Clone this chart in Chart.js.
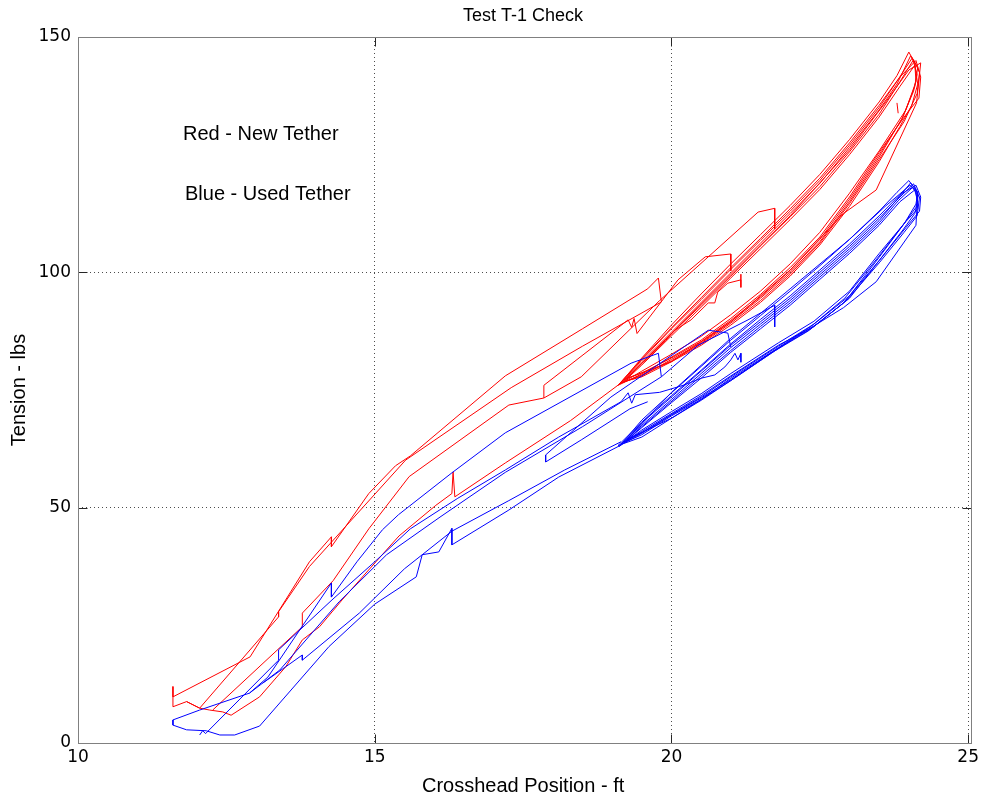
<!DOCTYPE html>
<html>
<head>
<meta charset="utf-8">
<title>Test T-1 Check</title>
<script src="https://cdn.jsdelivr.net/npm/chart.js@4.4.1/dist/chart.umd.min.js"></script>
<style>
  html, body { margin: 0; padding: 0; background: #fff; }
  #wrap { width: 983px; height: 796px; }
</style>
</head>
<body>
<div id="wrap"><canvas id="tensionChart" width="983" height="796"></canvas></div>
<script>
// axes
const xTickValues = [10, 15, 20, 25];
const xTickLabels = ['10', '15', '20', '25'];
const yTickValues = [0, 50, 100, 150];
const yTickLabels = ['0', '50', '100', '150'];

// Red - new tether: [crosshead position ft, tension lbs]
const redRampA = [[11.6,12.0],[11.6,9.8],[12.9,18.3],[13.9,38.5],[14.27,43.8],[14.27,41.7],[14.9,53.0],[15.35,58.9],[15.6,61.0],[17.2,78.0],[18.5,88.0],[19.6,96.5],[19.78,98.8],[19.83,93.7],[18.5,84.3],[17.3,75.5],[15.52,60.1],[13.9,37.5],[13.38,27.9],[13.38,26.8],[12.05,7.4],[11.83,8.8],[11.6,7.7],[11.6,9.8]];
const redRampB = [[12.27,7.0],[13.78,24.7],[13.78,27.6],[14.3,34.5],[14.9,45.5],[15.58,56.6],[17.26,71.8],[17.85,73.3],[17.85,76.0],[19.27,89.9],[19.33,88.3],[19.37,90.2],[19.42,87.0],[20.11,98.4],[20.57,103.3],[21.0,103.9],[21.0,100.3]];
const redRampC = [[17.85,73.3],[18.48,77.8],[19.8,94.0],[21.46,112.8],[21.74,113.6],[21.74,109.2]];
const redRampD = [[11.83,8.8],[12.05,7.4],[12.22,7.0],[12.44,6.6],[12.58,5.9],[13.06,9.8],[13.5,16.2],[13.78,21.9],[14.07,24.7],[14.45,30.4],[15.02,38.5],[15.41,44.0],[16.03,50.5],[16.3,53.0],[16.32,57.6],[16.35,52.3],[17.2,59.5],[18.3,68.5],[19.15,76.5]];
const redZig = [[19.55,81.0],[19.9,85.5],[20.06,87.7],[20.33,89.9],[20.62,93.5],[20.73,93.5],[20.78,95.8],[20.95,97.7],[21.17,98.4],[21.17,99.6],[21.17,96.8]];
const redLoop1 = [[19.15,76.5],[19.5,81.0],[20.0,87.3],[20.5,93.6],[21.0,99.9],[21.5,106.2],[22.0,112.5],[22.5,118.9],[23.0,126.5],[23.5,134.5],[23.8,140.0],[24.03,146.0],[24.15,143.5],[24.1,139.5],[23.9,133.0],[23.5,124.5],[23.0,115.0],[22.5,106.5],[22.0,100.0],[21.5,94.5],[21.0,89.5],[20.5,85.0],[20.0,81.5],[19.5,78.0],[19.15,76.5]];
const redLoop2 = [[19.2,76.8],[19.5,80.3],[20.0,86.5],[20.5,92.6],[21.0,98.8],[21.5,105.0],[22.0,111.2],[22.5,117.6],[23.0,125.0],[23.5,133.0],[23.85,139.5],[24.1,144.0],[24.15,140.0],[24.05,135.5],[23.85,131.0],[23.5,123.5],[23.0,114.0],[22.5,105.8],[22.0,99.2],[21.5,93.6],[21.0,88.8],[20.5,84.5],[20.0,81.0],[19.5,77.8],[19.2,76.8]];
const redLoop3 = [[19.1,76.0],[19.5,81.6],[20.0,88.2],[20.5,94.6],[21.0,101.0],[21.5,107.2],[22.0,113.5],[22.5,120.0],[23.0,127.5],[23.5,135.5],[23.85,141.5],[24.12,145.0],[24.2,141.5],[24.17,137.0],[23.95,133.5],[23.5,125.5],[23.0,116.0],[22.5,107.5],[22.0,101.0],[21.5,95.3],[21.0,90.2],[20.5,85.6],[20.0,82.0],[19.5,78.4],[19.1,76.0]];
const redLoop4 = [[19.25,77.5],[20.0,87.0],[21.0,99.5],[22.0,112.0],[23.0,126.0],[23.6,136.0],[24.0,143.0],[24.2,144.5],[24.13,136.0],[23.45,117.5],[22.9,112.5],[22.0,100.5],[21.0,89.5],[20.0,81.0],[19.25,77.5]];
const redLoop5 = [[19.12,76.2],[19.5,81.8],[20.0,88.8],[20.5,95.4],[21.0,101.8],[21.5,108.0],[22.0,114.2],[22.5,120.8],[23.0,128.2],[23.5,136.2],[23.8,141.8],[24.0,146.8],[24.1,144.5],[24.12,140.5],[23.95,134.5],[23.5,125.8],[23.0,116.8],[22.5,108.5],[22.0,101.8],[21.5,96.0],[21.0,91.0],[20.5,86.4],[20.0,82.6],[19.5,79.0],[19.12,76.2]];
const redLoop6 = [[19.18,76.6],[19.5,80.6],[20.0,87.0],[20.5,93.0],[21.0,99.2],[21.5,105.6],[22.0,111.8],[22.5,118.2],[23.0,125.6],[23.5,133.6],[23.85,140.5],[24.08,145.2],[24.18,142.5],[24.14,138.0],[23.92,132.0],[23.5,124.0],[23.0,114.6],[22.5,106.2],[22.0,99.6],[21.5,94.0],[21.0,89.2],[20.5,84.8],[20.0,81.2],[19.5,78.2],[19.18,76.6]];
const redLoop7 = [[19.2,77.2],[19.5,81.4],[20.0,88.0],[20.5,94.2],[21.0,100.6],[21.5,106.8],[22.0,113.0],[22.5,119.5],[23.0,127.0],[23.5,135.0],[23.82,141.0],[24.06,145.6],[24.14,142.0],[24.08,138.5],[23.88,132.5],[23.5,125.0],[23.0,115.5],[22.5,107.0],[22.0,100.4],[21.5,94.8],[21.0,89.8],[20.5,85.3],[20.0,81.8],[19.5,78.6],[19.2,77.2]];
const redStray = [[23.8,136.0],[23.82,133.8]];

// Blue - used tether
const blueRampA = [[11.6,4.9],[11.6,3.8],[11.83,2.8],[12.16,2.6],[12.39,1.7],[12.64,1.7],[13.06,3.6],[14.23,20.5],[15.0,29.5],[15.7,35.3],[15.8,40.0],[16.08,40.6],[16.3,45.6],[16.3,42.1],[17.26,49.5],[18.1,56.5],[19.15,63.3]];
const blueRampB = [[11.6,4.9],[12.05,7.0],[12.89,10.6],[13.2,14.0],[14.27,34.0],[14.27,31.0],[14.7,38.5],[15.13,45.3],[15.4,48.5],[16.3,57.4],[17.2,65.9],[19.32,80.7],[19.78,82.8],[19.83,77.8],[18.5,67.2],[17.2,57.5],[16.1,48.0],[15.2,40.0],[14.4,30.0],[13.4,15.5],[12.89,10.6]];
const blueRampC = [[12.05,1.7],[12.1,2.6],[12.15,2.0],[13.38,17.6],[13.38,19.8],[14.28,30.4],[15.0,38.5],[15.6,45.5],[16.4,52.0],[17.2,58.0],[18.1,65.0],[19.15,72.5],[19.27,74.4],[19.33,72.2],[19.39,74.0],[19.8,74.5],[20.2,76.0],[20.5,77.5],[20.73,78.2],[20.9,79.9],[21.0,81.4],[21.07,82.8],[21.12,81.4],[21.17,82.8],[21.17,80.9]];
const blueRampD = [[13.11,12.7],[13.78,18.7],[13.78,17.6],[14.74,27.6],[15.5,37.0],[16.3,45.0],[17.26,51.5],[18.2,58.0],[19.15,64.0]];
const blueRampE = [[21.0,84.1],[20.95,87.1],[20.62,87.7],[18.98,73.5],[17.88,61.2],[17.88,59.7],[18.48,64.4],[19.3,71.0],[19.6,72.5]];
const blueRampF = [[19.83,77.8],[20.45,84.5],[21.29,89.9],[21.74,93.0],[21.74,88.4]];
const blueLoop1 = [[19.15,63.5],[19.5,67.5],[20.0,73.0],[20.5,78.5],[21.0,84.0],[21.5,89.0],[22.0,94.0],[22.5,99.5],[23.0,105.0],[23.5,111.0],[23.8,115.5],[24.03,119.0],[24.15,117.0],[24.12,114.5],[23.93,110.5],[23.47,103.0],[22.92,94.5],[22.35,88.5],[21.8,84.0],[21.0,77.5],[20.5,73.0],[20.0,69.5],[19.5,65.5],[19.15,63.5]];
const blueLoop2 = [[19.2,63.8],[19.5,67.0],[20.0,72.3],[20.5,77.5],[21.0,83.0],[21.5,88.0],[22.0,93.0],[22.5,98.5],[23.0,104.0],[23.5,110.0],[23.85,115.0],[24.1,117.5],[24.15,115.0],[24.1,112.5],[23.9,109.0],[23.5,102.5],[23.0,94.5],[22.4,88.5],[21.8,84.5],[21.0,78.0],[20.5,73.8],[20.0,70.0],[19.5,66.2],[19.2,63.8]];
const blueLoop3 = [[19.1,63.2],[19.5,68.2],[20.0,73.8],[20.5,79.2],[21.0,84.8],[21.5,90.0],[22.0,95.0],[22.5,100.5],[23.0,106.0],[23.5,112.0],[23.85,116.5],[24.12,118.5],[24.2,116.0],[24.18,113.0],[23.95,109.5],[23.5,102.5],[22.9,93.5],[22.3,87.5],[21.7,83.0],[21.0,77.0],[20.5,72.8],[20.0,69.0],[19.5,65.0],[19.1,63.2]];
const blueLoop4 = [[19.25,64.5],[20.0,74.5],[21.0,86.0],[22.0,96.5],[23.0,107.0],[23.6,114.0],[24.02,118.5],[24.15,117.0],[24.12,110.0],[23.45,98.0],[22.9,92.5],[22.0,85.5],[21.0,77.0],[20.0,69.0],[19.25,64.5]];
const blueLoop5 = [[19.12,63.0],[19.5,68.6],[20.0,74.4],[20.5,80.0],[21.0,85.6],[21.5,90.8],[22.0,96.0],[22.5,101.4],[23.0,107.0],[23.5,113.0],[23.8,117.0],[24.0,119.5],[24.12,117.5],[24.15,113.5],[23.95,110.8],[23.5,104.0],[23.0,96.0],[22.4,89.6],[21.8,85.0],[21.0,78.5],[20.5,74.2],[20.0,70.4],[19.5,66.5],[19.12,63.0]];
const blueLoop6 = [[19.18,63.6],[19.5,67.2],[20.0,72.6],[20.5,78.0],[21.0,83.4],[21.5,88.5],[22.0,93.5],[22.5,99.0],[23.0,104.5],[23.5,110.5],[23.82,115.2],[24.06,118.0],[24.18,116.0],[24.14,112.0],[23.92,108.5],[23.5,102.0],[22.95,94.0],[22.35,88.0],[21.75,83.5],[21.0,77.2],[20.5,73.3],[20.0,69.7],[19.5,65.8],[19.18,63.6]];
const blueLoop7 = [[19.2,64.0],[19.5,68.0],[20.0,73.5],[20.5,79.0],[21.0,84.5],[21.5,89.5],[22.0,94.5],[22.5,100.0],[23.0,105.5],[23.5,111.5],[23.85,116.0],[24.08,118.8],[24.16,116.5],[24.12,113.8],[23.9,110.0],[23.5,103.2],[23.0,95.0],[22.4,89.0],[21.8,84.3],[21.0,77.8],[20.5,73.5],[20.0,69.8],[19.5,65.9],[19.2,64.0]];

const redPaths = [redRampA, redRampB, redRampC, redRampD, redZig, redLoop1, redLoop2, redLoop3, redLoop4, redLoop5, redLoop6, redLoop7, redStray];
const bluePaths = [blueRampA, blueRampB, blueRampC, blueRampD, blueRampE, blueRampF, blueLoop1, blueLoop2, blueLoop3, blueLoop4, blueLoop5, blueLoop6, blueLoop7];

const tickFont = '"DejaVu Sans", sans-serif';
const textFont = '"Liberation Sans", Arial, sans-serif';

function makeSet(path, color) {
    return {
        data: path.map(p => ({ x: p[0], y: p[1] })),
        showLine: true,
        borderColor: color,
        borderWidth: 1,
        pointRadius: 0,
        pointHoverRadius: 0,
        fill: false,
        tension: 0
    };
}

const datasets = [];
bluePaths.forEach(p => datasets.push(makeSet(p, '#0000ff')));
redPaths.forEach(p => datasets.push(makeSet(p, '#ff0000')));

// frame, inward ticks, title, axis titles and the two notes
const matlabLook = {
    id: 'matlabLook',
    afterDraw(chart) {
        const ctx = chart.ctx;
        const a = chart.chartArea;
        const xs = chart.scales.x;
        const ys = chart.scales.y;
        const L = 78.5, R = 971.5, T = 37.5, B = 743.5;
        ctx.save();
        ctx.lineWidth = 1;
        ctx.strokeStyle = '#262626';
        ctx.beginPath();
        xTickValues.forEach(v => {
            const px = Math.round(xs.getPixelForValue(v)) + 0.5;
            ctx.moveTo(px, B); ctx.lineTo(px, B - 9);
            ctx.moveTo(px, T); ctx.lineTo(px, T + 9);
        });
        yTickValues.forEach(v => {
            const py = Math.round(ys.getPixelForValue(v)) + 0.5;
            ctx.moveTo(L, py); ctx.lineTo(L + 9, py);
            ctx.moveTo(R, py); ctx.lineTo(R - 9, py);
        });
        ctx.stroke();
        ctx.strokeStyle = '#808080';
        ctx.strokeRect(L, T, R - L, B - T);

        ctx.fillStyle = '#000';
        ctx.textBaseline = 'middle';
        ctx.textAlign = 'center';
        ctx.font = '18px ' + textFont;
        ctx.fillText('Test T-1 Check', (a.left + a.right) / 2, 16);
        ctx.font = '20px ' + textFont;
        ctx.fillText('Crosshead Position - ft', (a.left + a.right) / 2, 786);
        ctx.save();
        ctx.translate(19, (a.top + a.bottom) / 2);
        ctx.rotate(-Math.PI / 2);
        ctx.fillText('Tension - lbs', 0, 0);
        ctx.restore();
        ctx.textAlign = 'left';
        ctx.fillText('Red - New Tether', 183, 134);
        ctx.fillText('Blue - Used Tether', 185, 194);
        ctx.restore();
    }
};

const ctxT = document.getElementById('tensionChart').getContext('2d');
new Chart(ctxT, {
    type: 'scatter',
    data: { datasets: datasets },
    options: {
        responsive: false,
        animation: false,
        events: [],
        layout: { padding: { left: 0, right: 12, top: 37, bottom: 0 } },
        plugins: {
            legend: { display: false },
            tooltip: { enabled: false },
            title: { display: false }
        },
        scales: {
            x: {
                type: 'linear',
                min: 10,
                max: 25,
                afterBuildTicks: s => { s.ticks = xTickValues.map(v => ({ value: v })); },
                afterFit: s => { s.height = 53; },
                ticks: {
                    color: '#000',
                    padding: 4,
                    maxRotation: 0,
                    font: { family: tickFont, size: 17 },
                    callback: v => xTickLabels[xTickValues.indexOf(v)]
                },
                grid: {
                    color: '#4d4d4d',
                    drawTicks: false
                },
                border: { display: false, dash: [1, 3] }
            },
            y: {
                type: 'linear',
                min: 0,
                max: 150,
                afterBuildTicks: s => { s.ticks = yTickValues.map(v => ({ value: v })); },
                afterFit: s => { s.width = 78; },
                ticks: {
                    color: '#000',
                    padding: 7,
                    font: { family: tickFont, size: 17 },
                    callback: v => yTickLabels[yTickValues.indexOf(v)]
                },
                grid: {
                    color: '#4d4d4d',
                    drawTicks: false
                },
                border: { display: false, dash: [1, 3] }
            }
        }
    },
    plugins: [matlabLook]
});
</script>
</body>
</html>
